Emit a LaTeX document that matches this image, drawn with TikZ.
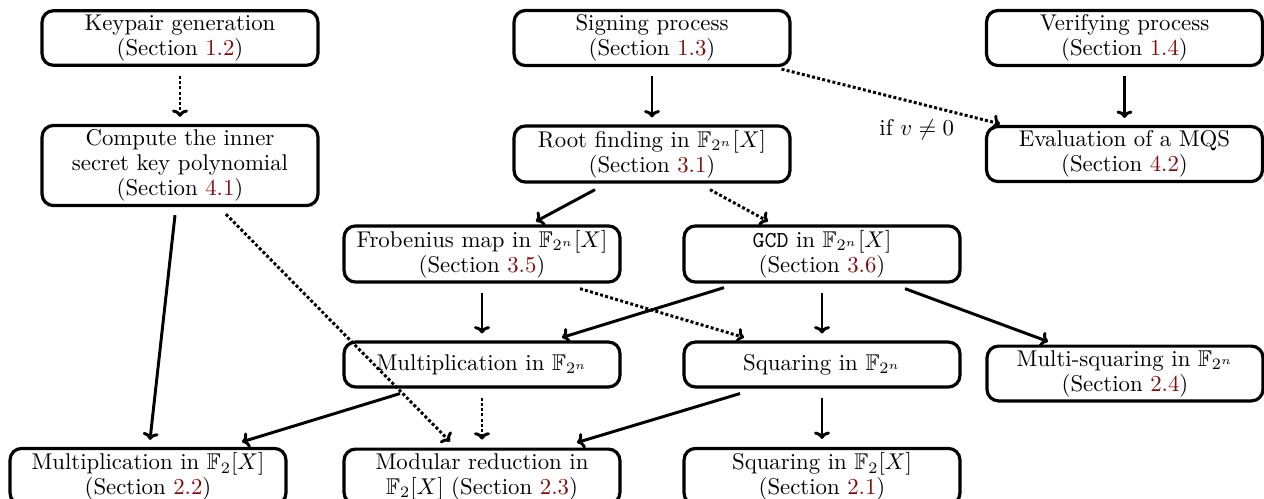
\documentclass[tikz,border=0pt]{standalone}
\usepackage{amssymb}
\usepackage{xcolor}
\usetikzlibrary{calc,arrows.meta}
\definecolor{secred}{rgb}{0.5,0.05,0.05}
\newcommand{\mysec}[1]{\textcolor{secred}{#1}}
\tikzset{
  box/.style={draw, line width=1.4pt, rounded corners=5pt, align=center,
    minimum width=121pt, minimum height=19.7pt, inner sep=1.8pt,
    font=\fontsize{10}{11}\selectfont},
  conn/.style={-{To[length=3.2pt,width=7pt]}, line width=1.3pt},
  dconn/.style={-{To[length=3.2pt,width=7pt]}, line width=1.3pt, dash pattern=on 1.3pt off 1pt},
}
\begin{document}
\begin{tikzpicture}[x=0.4386pt, y=-0.4386pt]
\useasboundingbox (0,0) rectangle (1264,498);
\node[box] (key)  at (180,38)   {Keypair generation\\(Section \mysec{1.2})};
\node[box] (comp) at (180,165.5) {Compute the inner\\secret key polynomial\\(Section \mysec{4.1})};
\node[box] (sign) at (652,38)   {Signing process\\(Section \mysec{1.3})};
\node[box] (root) at (652,154)  {Root finding in $\mathbb{F}_{2^n}[X]$\\(Section \mysec{3.1})};
\node[box] (ver)  at (1124.5,38)  {Verifying process\\(Section \mysec{1.4})};
\node[box] (eval) at (1124.5,154) {Evaluation of a MQS\\(Section \mysec{4.2})};
\node[box] (frob) at (482,254)  {Frobenius map in $\mathbb{F}_{2^n}[X]$\\(Section \mysec{3.5})};
\node[box] (gcd)  at (822,254)  {\texttt{GCD} in $\mathbb{F}_{2^n}[X]$\\(Section \mysec{3.6})};
\node[box] (mulf) at (482,364.5){Multiplication in $\mathbb{F}_{2^n}$};
\node[box] (sqf)  at (822,364.5){Squaring in $\mathbb{F}_{2^n}$};
\node[box] (msq)  at (1125,373.5) {Multi-squaring in $\mathbb{F}_{2^n}$\\(Section \mysec{2.4})};
\node[box] (mulx) at (148,476.5)  {Multiplication in $\mathbb{F}_2[X]$\\(Section \mysec{2.2})};
\node[box] (mod)  at (482,476.5)  {Modular reduction in\\$\mathbb{F}_2[X]$ (Section \mysec{2.3})};
\node[box] (sqx)  at (822,476.5)  {Squaring in $\mathbb{F}_2[X]$\\(Section \mysec{2.1})};

% vertical connectors
\draw[dconn] ($(key.south)+(0,9)$) -- ($(comp.north)+(0,-7)$);
\draw[conn] ($(sign.south)+(0,9)$) -- ($(root.north)+(0,-7)$);
\draw[conn] ($(ver.south)+(0,9)$) -- ($(eval.north)+(0,-7)$);
\draw[conn] ($(frob.south)+(0,9)$) -- ($(mulf.north)+(0,-7)$);
\draw[conn] ($(gcd.south)+(0,9)$) -- ($(sqf.north)+(0,-7)$);
\draw[dconn] ($(mulf.south)+(0,9)$) -- ($(mod.north)+(0,-8)$);
\draw[conn] ($(sqf.south)+(0,9)$) -- ($(sqx.north)+(0,-8)$);

% diagonal connectors
\draw[dconn] ($(sign.south east)+(-10,2)$) -- ($(eval.north west)+(15,-1)$)
  node[at end, anchor=north east, inner sep=0pt, xshift=-19.5pt, yshift=2.8pt,
       font=\fontsize{10}{11}\selectfont] (cond) {if $v \neq 0$};
\draw[conn] ($(root.south)+(-57,6)$) -- ($(frob.north)+(54,-3)$);
\draw[dconn] ($(root.south)+(58,6)$) -- ($(gcd.north)+(-54,-3)$);
\draw[conn] ($(comp.south)+(-5,8)$) -- ($(mulx.north)+(2,-7)$);
\draw[dconn] ($(comp.south)+(46,7)$) -- ($(mod.north)+(-32,-6)$);
\draw[dconn] ($(frob.south)+(98,5)$) -- ($(sqf.north)+(-78,-3)$);
\draw[conn] ($(gcd.south)+(-98,4)$) -- ($(mulf.north)+(80,-3)$);
\draw[conn] ($(gcd.south)+(83,5)$) -- ($(msq.north)+(-77,-3)$);
\draw[conn] ($(mulf.south)+(-82,5)$) -- ($(mulx.north)+(94,-5)$);
\draw[conn] ($(sqf.south)+(-82,5)$) -- ($(mod.north)+(95,-5)$);
\end{tikzpicture}
\end{document}
